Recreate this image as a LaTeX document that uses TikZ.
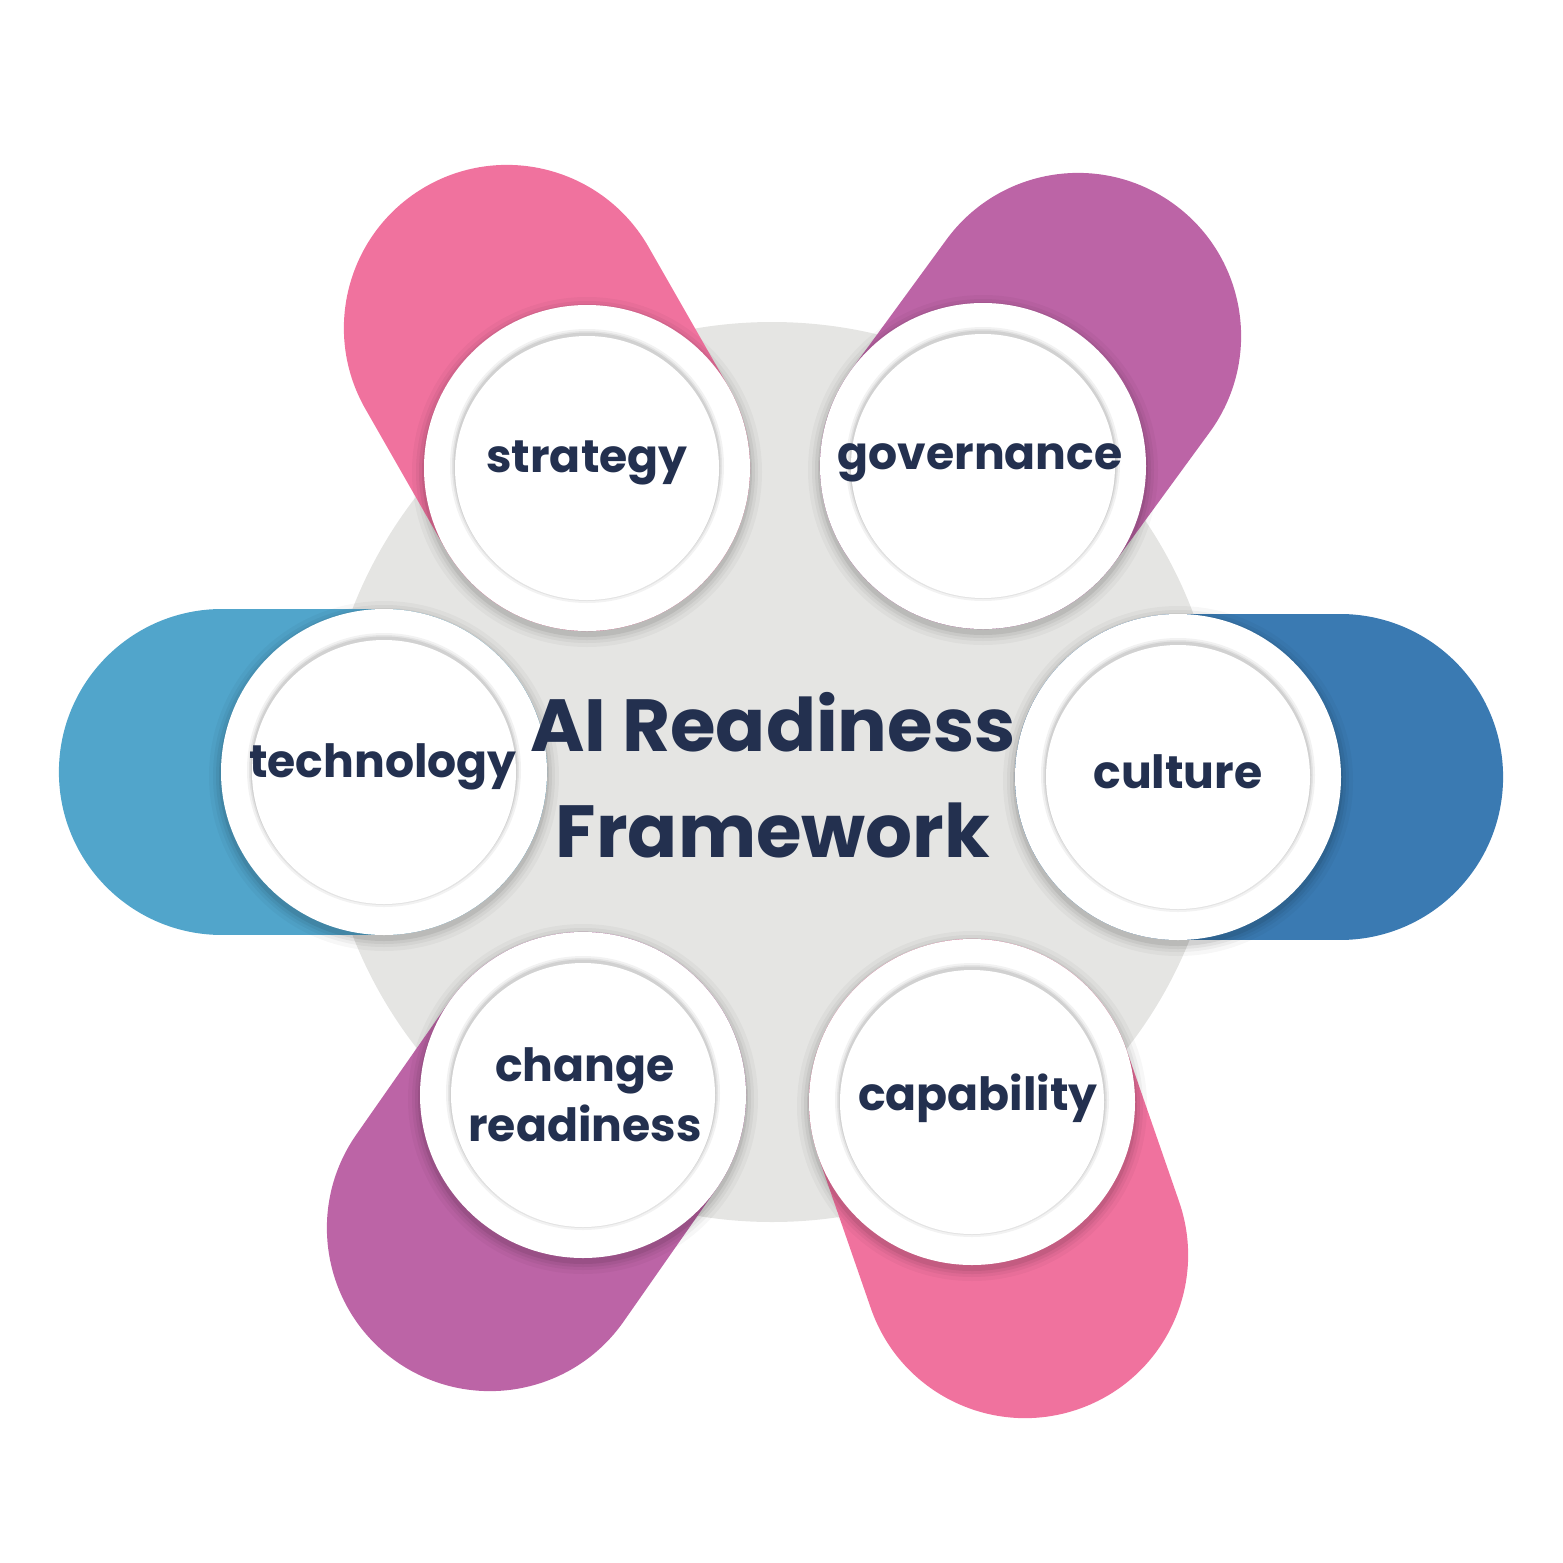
\documentclass[tikz,border=0pt]{standalone}
\usepackage{fontspec}
\setmainfont{Poppins}
\definecolor{pinkc}{HTML}{F0729E}
\definecolor{purc}{HTML}{BC64A6}
\definecolor{lblue}{HTML}{51A5CB}
\definecolor{dblue}{HTML}{3A7AB2}
\definecolor{navy}{HTML}{23304F}
\definecolor{grayc}{HTML}{E5E5E3}
\begin{document}
\begin{tikzpicture}[x=0.01cm,y=-0.01cm,
  petal/.style={line width=3.26cm,line cap=round,draw=#1},
  lab/.style={font=\bfseries\fontsize{13}{17}\selectfont,text=navy,align=center}]
\useasboundingbox (0,0) rectangle (1563,1563);
\fill[grayc] (772,772) circle (450);
% centres
\coordinate (cs) at (587,468); \coordinate (es) at (507,328);
\coordinate (cg) at (983,466); \coordinate (eg) at (1078,336);
\coordinate (cc) at (1178,777); \coordinate (ec) at (1340,777);
\coordinate (cp) at (972,1102); \coordinate (ep) at (1025,1255);
\coordinate (cr) at (583,1095); \coordinate (er) at (490,1228);
\coordinate (ct) at (384,772); \coordinate (et) at (222,772);
\draw[petal=pinkc] (cs)--(es);
\draw[petal=purc] (cg)--(eg);
\draw[petal=dblue] (cc)--(ec);
\draw[petal=pinkc] (cp)--(ep);
\draw[petal=purc] (cr)--(er);
\draw[petal=lblue] (ct)--(et);
\foreach \c in {cs,cg,cc,cp,cr,ct}{
  \foreach \r/\o in {175/0.03,171/0.04,168/0.05,165/0.07}
    \fill[black,opacity=\o] ([shift={(0,4)}]\c) circle (\r);
  \fill[white] (\c) circle (163);
  \foreach \r/\o in {137/0.05,135/0.06,133.5/0.08}
    \fill[black,opacity=\o] ([shift={(0,-2)}]\c) circle (\r);
  \fill[white] (\c) circle (132);
}
\node[lab] (strategy) at (587,463) {strategy};
\node[lab] (governance) at (980,463) {governance};
\node[lab] (culture) at (1178,772) {culture};
\node[lab] (capability) at (978,1098) {capability};
\node[lab] (change) at (585,1095) {change\\readiness};
\node[lab] (technology) at (383,767) {technology};
\node[font=\bfseries\fontsize{21}{30}\selectfont,text=navy,align=center] (title) at (773,775) {AI Readiness\\Framework};
\end{tikzpicture}
\end{document}
